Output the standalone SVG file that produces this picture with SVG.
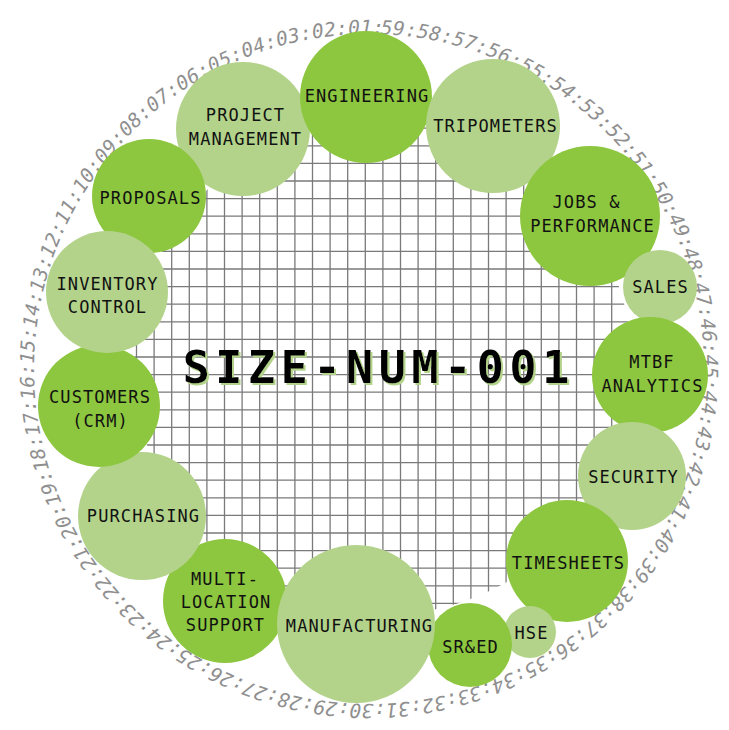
<svg xmlns="http://www.w3.org/2000/svg" width="729" height="730" viewBox="0 0 729 730">
<style>
.dk{fill:#8dc63f}
.lt{fill:#b3d38b}
.lb{font-family:"DejaVu Sans Mono","Liberation Mono",monospace;font-size:17px;letter-spacing:1.1px;fill:#111;text-anchor:middle}
.ring{font-family:"DejaVu Sans Mono","Liberation Mono",monospace;font-size:19.5px;font-style:italic;letter-spacing:0.16px;fill:#8f8f8f}
.title{font-family:"DejaVu Sans Mono","Liberation Mono",monospace;font-size:45px;font-weight:bold;letter-spacing:5.6px;text-anchor:middle;fill:#000}
.gl{stroke:#7a7a7a;stroke-width:1.3}
</style>
<defs>
<clipPath id="gc"><circle cx="383" cy="366" r="249"/></clipPath>
<path id="rp" d="M369,34 A335,335 0 1,1 369,704 A335,335 0 1,1 369,34"/>
<filter id="sh" filterUnits="userSpaceOnUse" x="150" y="320" width="450" height="90">
<feFlood flood-color="#b3d38b"/>
<feComposite in2="SourceAlpha" operator="in"/>
<feOffset dx="2" dy="2"/>
<feMerge><feMergeNode/><feMergeNode in="SourceGraphic"/></feMerge>
</filter>
</defs>
<rect width="729" height="730" fill="#fff"/>
<g id="grid" clip-path="url(#gc)" class="gl">
<path d="M136.5,100V640M154.1,100V640M171.7,100V640M189.3,100V640M206.9,100V640M224.5,100V640M242.1,100V640M259.7,100V640M277.3,100V640M294.9,100V640M312.5,100V640M330.1,100V640M347.7,100V640M365.3,100V640M382.9,100V640M400.5,100V640M418.1,100V640M435.7,100V640M453.3,100V640M470.9,100V640M488.5,100V640M506.1,100V640M523.7,100V640M541.3,100V640M558.9,100V640M576.5,100V640M594.1,100V640M611.7,100V640M629.3,100V640"/>
<path d="M100,110.6H660M100,128.2H660M100,145.8H660M100,163.4H660M100,181H660M100,198.6H660M100,216.2H660M100,233.8H660M100,251.4H660M100,269H660M100,286.6H660M100,304.2H660M100,321.8H660M100,339.4H660M100,357H660M100,374.6H660M100,392.2H660M100,409.8H660M100,427.4H660M100,445H660M100,462.6H660M100,480.2H660M100,497.8H660M100,515.4H660M100,533H660M100,550.6H660M100,568.2H660M100,585.8H660M100,603.4H660M100,621H660"/>
</g>
<g id="ring" transform="rotate(2 369 369)">
<text class="ring"><textPath href="#rp">59:58:57:56:55:54:53:52:51:50:49:48:47:46:45:44:43:42:41:40:39:38:37:36:35:34:33:32:31:30:29:28:27:26:25:24:23:22:21:20:19:18:17:16:15:14:13:12:11:10:09:08:07:06:05:04:03:02:01:</textPath></text>
</g>
<g id="project-management"><circle class="lt" cx="243" cy="129" r="67"/><text class="lb" x="245.5" y="121">PROJECT</text><text class="lb" x="245.5" y="145">MANAGEMENT</text></g>
<g id="proposals"><circle class="dk" cx="149" cy="196" r="57"/><text class="lb" x="150.5" y="204">PROPOSALS</text></g>
<g id="engineering"><circle class="dk" cx="366" cy="97" r="66"/><text class="lb" x="367" y="102">ENGINEERING</text></g>
<g id="tripometers"><circle class="lt" cx="493" cy="126" r="67"/><text class="lb" x="495.5" y="132">TRIPOMETERS</text></g>
<g id="jobs-performance"><circle class="dk" cx="590" cy="216" r="70"/><text class="lb" x="586.5" y="208">JOBS &amp;</text><text class="lb" x="592.5" y="232">PERFORMANCE</text></g>
<g id="sales"><circle class="lt" cx="660" cy="287" r="37"/><text class="lb" x="660.5" y="293">SALES</text></g>
<g id="mtbf-analytics"><circle class="dk" cx="650" cy="375" r="58"/><text class="lb" x="652" y="368">MTBF</text><text class="lb" x="652.5" y="392">ANALYTICS</text></g>
<g id="security"><circle class="lt" cx="632" cy="476" r="54"/><text class="lb" x="633.5" y="483">SECURITY</text></g>
<g id="timesheets"><circle class="dk" cx="567" cy="561" r="61"/><text class="lb" x="568.5" y="569">TIMESHEETS</text></g>
<g id="hse"><circle class="lt" cx="530" cy="632" r="26"/><text class="lb" x="531.5" y="639">HSE</text></g>
<g id="sred"><circle class="dk" cx="470" cy="645" r="42"/><text class="lb" x="470.5" y="653">SR&amp;ED</text></g>
<g id="multi-location-support"><circle class="dk" cx="225" cy="601" r="62"/><text class="lb" x="225" y="585">MULTI-</text><text class="lb" x="226" y="608">LOCATION</text><text class="lb" x="225.5" y="631">SUPPORT</text></g>
<g id="manufacturing"><circle class="lt" cx="356" cy="624" r="79"/><text class="lb" x="359.5" y="632">MANUFACTURING</text></g>
<g id="purchasing"><circle class="lt" cx="142" cy="516" r="64"/><text class="lb" x="143.5" y="522">PURCHASING</text></g>
<g id="customers-crm"><circle class="dk" cx="99" cy="406" r="61"/><text class="lb" x="100" y="403">CUSTOMERS</text><text class="lb" x="100.5" y="427">(CRM)</text></g>
<g id="inventory-control"><circle class="lt" cx="107" cy="292" r="61"/><text class="lb" x="107.5" y="290">INVENTORY</text><text class="lb" x="107.5" y="313">CONTROL</text></g>
<g id="title">
<text class="title" x="378.8" y="383" filter="url(#sh)">SIZE-NUM-001</text>
</g>
</svg>
